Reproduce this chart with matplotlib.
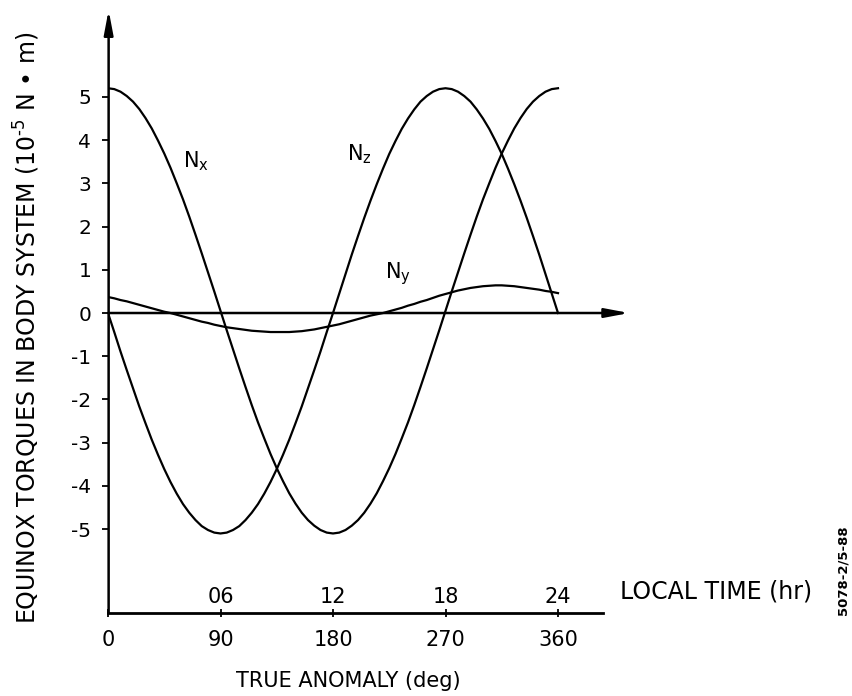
import numpy as np
import matplotlib.pyplot as plt

plt.rcParams['font.family'] = ['DejaVu Sans']
plt.rcParams['mathtext.fontset'] = 'dejavusans'
plt.rcParams['axes.unicode_minus'] = False

# true anomaly (deg), every 5 deg
anomaly = list(range(0, 361, 5))

# torques, 10^-5 N m
n_x = [5.20, 5.18, 5.12, 5.02, 4.89, 4.72, 4.51, 4.27, 3.99, 3.69,
       3.36, 3.00, 2.63, 2.23, 1.81, 1.38, 0.94, 0.50, 0.05,
       -0.40, -0.84, -1.28, -1.71, -2.13, -2.53, -2.90, -3.26, -3.59,
       -3.89, -4.17, -4.41, -4.62, -4.79, -4.92, -5.02, -5.08, -5.10,
       -5.08, -5.02, -4.92, -4.79, -4.62, -4.41, -4.17, -3.89, -3.59,
       -3.26, -2.90, -2.53, -2.13, -1.71, -1.28, -0.84, -0.40, 0.05,
       0.50, 0.94, 1.38, 1.81, 2.23, 2.63, 3.00, 3.36, 3.69,
       3.99, 4.27, 4.51, 4.72, 4.89, 5.02, 5.12, 5.18, 5.20]
n_z = [0.00, -0.44, -0.89, -1.32, -1.74, -2.16, -2.55, -2.93, -3.28, -3.61,
       -3.91, -4.18, -4.42, -4.62, -4.79, -4.93, -5.02, -5.08, -5.10,
       -5.08, -5.02, -4.93, -4.79, -4.62, -4.42, -4.18, -3.91, -3.61,
       -3.28, -2.93, -2.55, -2.16, -1.74, -1.32, -0.89, -0.44, 0.00,
       0.45, 0.90, 1.35, 1.78, 2.20, 2.60, 2.98, 3.34, 3.68,
       3.98, 4.26, 4.50, 4.71, 4.89, 5.02, 5.12, 5.18, 5.20,
       5.18, 5.12, 5.02, 4.89, 4.71, 4.50, 4.26, 3.98, 3.68,
       3.34, 2.98, 2.60, 2.20, 1.78, 1.35, 0.90, 0.45, 0.00]
n_y = [0.37, 0.34, 0.30, 0.27, 0.23, 0.19, 0.15, 0.11, 0.07, 0.03,
       0.00, -0.04, -0.08, -0.12, -0.16, -0.20, -0.23, -0.27, -0.30,
       -0.33, -0.35, -0.37, -0.39, -0.41, -0.42, -0.43, -0.44, -0.44,
       -0.44, -0.44, -0.43, -0.42, -0.40, -0.38, -0.35, -0.32, -0.29,
       -0.26, -0.22, -0.18, -0.14, -0.10, -0.06, -0.03, 0.00, 0.04,
       0.08, 0.12, 0.17, 0.21, 0.26, 0.30, 0.35, 0.40, 0.44,
       0.48, 0.52, 0.55, 0.58, 0.60, 0.62, 0.63, 0.64, 0.64,
       0.63, 0.62, 0.60, 0.58, 0.56, 0.54, 0.51, 0.49, 0.46]

deg_ticks = [0, 90, 180, 270, 360]
hr_ticks = [90, 180, 270, 360]
hr_labels = ["06", "12", "18", "24"]
y_ticks = [-5, -4, -3, -2, -1, 0, 1, 2, 3, 4, 5]

W, H = 852, 696
fig = plt.figure(figsize=(W / 100, H / 100), dpi=100)
ax = fig.add_axes([108 / W, (H - 613) / H, 532 / W, 603 / H])
ymin, ymax = -6.94, 7.01
ax.set_xlim(0, 425.6)
ax.set_ylim(ymin, ymax)

for s in ["top", "right", "left"]:
    ax.spines[s].set_visible(False)
ax.spines["bottom"].set_bounds(0, 396)
ax.spines["bottom"].set_linewidth(2.0)

lw = 1.6
ax.plot(anomaly, n_x, color="black", lw=lw)
ax.plot(anomaly, n_z, color="black", lw=lw)
ax.plot(anomaly, n_y, color="black", lw=lw)

# arrows: vertical axis and zero line
arrow = dict(arrowstyle="-|>,head_length=0.9,head_width=0.17", lw=1.8,
             color="black", shrinkA=0, shrinkB=0, mutation_scale=16)
ax.annotate("", xy=(0.5, ymax), xytext=(0.5, ymin), arrowprops=arrow,
            annotation_clip=False)
ax.annotate("", xy=(417, 0), xytext=(0, 0), arrowprops=arrow,
            annotation_clip=False)

ax.set_yticks(y_ticks)
ax.set_yticklabels([str(v) for v in y_ticks])
ax.tick_params(axis="y", direction="out", length=4, width=1.3, pad=8,
               labelsize=14.5)
ax.set_xticks(deg_ticks)
ax.set_xticklabels([str(v) for v in deg_ticks])
ax.tick_params(axis="x", direction="inout", length=6, width=1.3, pad=9,
               labelsize=15)

for x, lab in zip(hr_ticks, hr_labels):
    ax.annotate(lab, xy=(x, ymin), xytext=(0, 7.5), textcoords="offset points",
                ha="center", va="baseline", fontsize=15,
                annotation_clip=False)

ax.text(60, 3.38, r"N$_\mathrm{x}$", fontsize=15, ha="left", va="baseline")
ax.text(191, 3.54, r"N$_\mathrm{z}$", fontsize=15, ha="left", va="baseline")
ax.text(221.6, 0.81, r"N$_\mathrm{y}$", fontsize=15, ha="left", va="baseline")

fig.text(27 / W, 1 - 328 / H,
         r"EQUINOX TORQUES IN BODY SYSTEM (10$^{\text{-5}}$ N • m)",
         rotation=90, ha="center", va="center", fontsize=17)
fig.text(620 / W, 1 - 598 / H, "LOCAL TIME (hr)", ha="left",
         va="baseline", fontsize=17)
fig.text(348 / W, 1 - 687 / H, "TRUE ANOMALY (deg)", ha="center",
         va="baseline", fontsize=15)
fig.text(843 / W, 1 - 570 / H, "5078-2/5-88", rotation=90, ha="center",
         va="center", fontsize=9.5, fontweight="bold")

fig.savefig("out.png", dpi=100)
